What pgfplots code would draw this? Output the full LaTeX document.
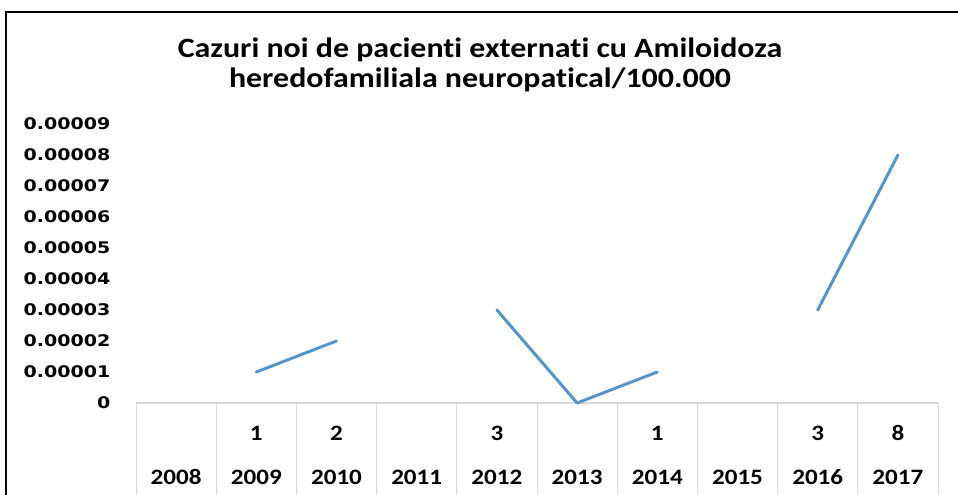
\documentclass[border=0pt]{standalone}
\usepackage{fontspec}
\usepackage{pgfplots}
\pgfplotsset{compat=1.18}
\setmainfont{Carlito}[Ligatures={NoCommon}]
\newfontfamily\tickfont{DejaVu Sans}[FakeStretch=1.19]
\newfontfamily\tabfont{Carlito}[FakeStretch=1.14, Ligatures={NoCommon}]
\newfontfamily\titlefont{Carlito}[FakeStretch=1.14, Ligatures={NoCommon}]
\definecolor{xlblue}{RGB}{86,148,204}
\definecolor{gridgray}{RGB}{217,217,217}

\begin{document}
\begin{tikzpicture}[x=1pt,y=1pt]
\useasboundingbox (0,0) rectangle (958,495);
\clip (0,0) rectangle (958,495);
\fill[white] (0,0) rectangle (958,495);
\draw[line width=1.5pt] (6,-10) -- (6,483) -- (970,483);

% chart title, two lines
\node[anchor=base, font=\titlefont\bfseries\fontsize{28}{32}\selectfont] at (480,437) {Cazuri noi de pacienti externati cu Amiloidoza};
\node[anchor=base, font=\titlefont\bfseries\fontsize{28}{32}\selectfont] at (480,407) {heredofamiliala neuropatical/100.000};

\begin{axis}[
    at={(136pt,92pt)}, anchor=south west,
    scale only axis, width=802pt, height=279pt,
    xmin=-0.5, xmax=9.5, ymin=0, ymax=9e-5,
    axis line style={draw=none},
    major tick length=0pt,
    clip=false,
    scaled y ticks=false,
    ytick={0,1e-5,2e-5,3e-5,4e-5,5e-5,6e-5,7e-5,8e-5,9e-5},
    yticklabels={0,0.00001,0.00002,0.00003,0.00004,0.00005,0.00006,0.00007,0.00008,0.00009},
    yticklabel style={anchor=east, xshift=-22pt, font=\tickfont\bfseries\fontsize{16}{19}\selectfont},
    xtick={0,1,2,3,4,5,6,7,8,9},
    xticklabels={2008,2009,2010,2011,2012,2013,2014,2015,2016,2017},
    xticklabel style={anchor=base, yshift=-81pt, font=\tabfont\bfseries\fontsize{22}{26}\selectfont},
    % data table row with the case counts
    extra x ticks={0,1,2,3,4,5,6,7,8,9},
    extra x tick labels={,1,2,,3,,1,,3,8},
    extra x tick style={xticklabel style={yshift=44pt}},
    unbounded coords=jump,
]
\draw[gridgray, line width=1pt] (axis cs:-0.5,0) -- (axis cs:9.5,0);
\pgfplotsinvokeforeach{-0.5,0.5,...,9.5}{
  \draw[gridgray, line width=1pt] (axis cs:#1,0) -- ([yshift=-120pt]axis cs:#1,0);
}
\addplot[xlblue, line width=3pt, line cap=round, line join=round] coordinates {
  (0,nan) (1,1e-5) (2,2e-5) (3,nan) (4,3e-5) (5,0) (6,1e-5) (7,nan) (8,3e-5) (9,8e-5)
};
\end{axis}
\end{tikzpicture}
\end{document}
